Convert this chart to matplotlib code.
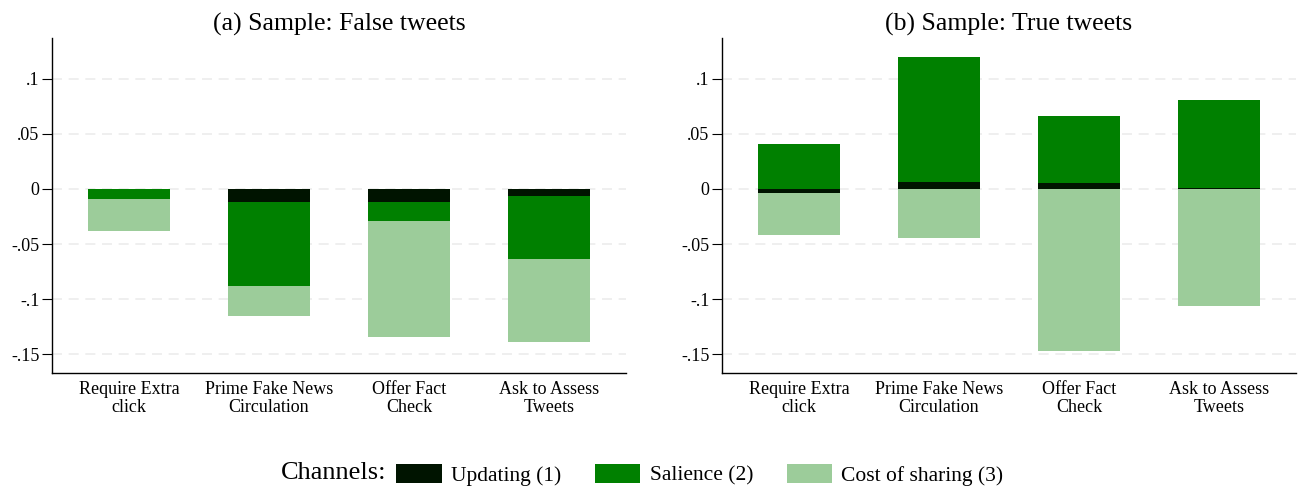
import numpy as np
import matplotlib.pyplot as plt
from matplotlib.patches import Patch

plt.rcParams['font.family'] = ['Liberation Serif', 'DejaVu Serif']

categories = ['Require Extra\nclick', 'Prime Fake News\nCirculation', 'Offer Fact\nCheck', 'Ask to Assess\nTweets']
channels = ['Updating (1)', 'Salience (2)', 'Cost of sharing (3)']
colors = ['#001400', '#008000', '#9ccc9a']

# decomposition by channel, false tweets
false_updating = [0.0, -0.0115, -0.0115, -0.0064]
false_salience = [-0.0091, -0.0767, -0.0175, -0.0572]
false_cost = [-0.0288, -0.0270, -0.1055, -0.0755]

# decomposition by channel, true tweets
true_updating = [-0.0035, 0.0064, 0.0055, 0.0005]
true_salience = [0.0410, 0.1136, 0.0610, 0.0805]
true_cost = [-0.0382, -0.0443, -0.1470, -0.1060]

yticks = [0.1, 0.05, 0, -0.05, -0.1, -0.15]
yticklabels = ['.1', '.05', '0', '-.05', '-.1', '-.15']

fig = plt.figure(figsize=(13.08, 4.93), dpi=100)
ax1 = fig.add_axes([52 / 1308, 1 - 373 / 493, 574 / 1308, 335 / 493])
ax2 = fig.add_axes([722 / 1308, 1 - 373 / 493, 574 / 1308, 335 / 493])


def stacked(ax, parts, title):
    x = np.arange(len(categories))
    pos = np.zeros(len(categories))
    neg = np.zeros(len(categories))
    for vals, c in zip(parts, colors):
        vals = np.array(vals)
        bottom = np.where(vals >= 0, pos, neg)
        ax.bar(x, vals, bottom=bottom, width=0.59, color=c, zorder=3, linewidth=0)
        pos = pos + np.clip(vals, 0, None)
        neg = neg + np.clip(vals, None, 0)
    ax.set_xlim(-0.55, 3.55)
    ax.set_ylim(-0.167, 0.137)
    ax.set_yticks(yticks)
    ax.set_yticklabels(yticklabels, fontsize=13)
    ax.set_xticks(x)
    ax.set_xticklabels(categories, fontsize=13, linespacing=1.05)
    ax.tick_params(axis='x', length=0, pad=6)
    ax.tick_params(axis='y', length=7, width=0.8, pad=2)
    for yv in yticks:
        ax.axhline(yv, color='#ececec', lw=1.2, ls=(0, (6, 4)), zorder=1)
    ax.spines['top'].set_visible(False)
    ax.spines['right'].set_visible(False)
    ax.spines['left'].set_linewidth(1.0)
    ax.spines['bottom'].set_linewidth(1.0)
    ax.set_title(title, fontsize=18.5, pad=5)


stacked(ax1, [false_updating, false_salience, false_cost], '(a) Sample: False tweets')
stacked(ax2, [true_updating, true_salience, true_cost], '(b) Sample: True tweets')

handles = [Patch(facecolor=c, edgecolor='none') for c in colors]
fig.text(386 / 1308, 1 - 473 / 493, 'Channels:', fontsize=19, ha='right', va='center')
fig.legend(handles, channels, loc='center left', bbox_to_anchor=(392 / 1308, 1 - 475 / 493),
           ncol=3, frameon=False, fontsize=15.5, handlelength=2.1, handleheight=0.95,
           handletextpad=0.45, columnspacing=1.55, borderaxespad=0, borderpad=0.2)

fig.savefig('out.png', dpi=100)
